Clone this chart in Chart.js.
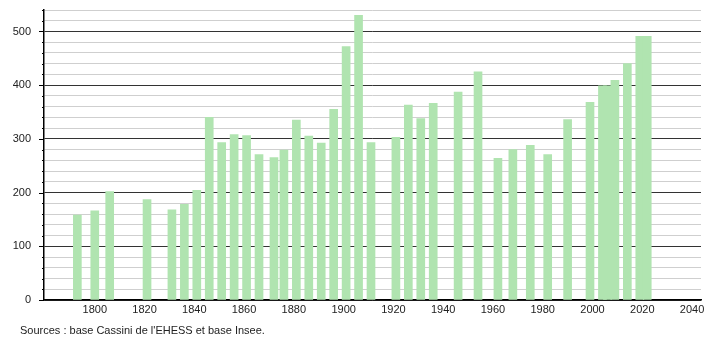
<!DOCTYPE html>
<html>
<head>
<meta charset="utf-8">
<script src="https://cdn.jsdelivr.net/npm/chart.js@4"></script>
<style>
  html, body { margin: 0; padding: 0; background: #fff; }
  #wrap { position: relative; width: 710px; height: 340px; }
</style>
</head>
<body>
<div id="wrap"><canvas id="chart" width="710" height="340"></canvas></div>
<script>
// census years and population
var years = [1793, 1800, 1806, 1821, 1831, 1836, 1841, 1846, 1851, 1856,
             1861, 1866, 1872, 1876, 1881, 1886, 1891, 1896, 1901, 1906,
             1911, 1921, 1926, 1931, 1936, 1946, 1954, 1962, 1968, 1975,
             1982, 1990, 1999, 2004, 2006, 2009, 2014, 2019, 2022];
var population = [158, 166, 202, 187, 168, 178, 204, 340, 293, 308,
                  306, 271, 265, 279, 335, 305, 292, 355, 472, 530,
                  293, 303, 363, 338, 366, 387, 425, 264, 280, 288,
                  271, 336, 368, 399, 399, 409, 440, 491, 491];
var xTickLabels = [1800, 1820, 1840, 1860, 1880, 1900, 1920, 1940, 1960, 1980, 2000, 2020, 2040];
var yTickValues = [0, 20, 40, 60, 80, 100, 120, 140, 160, 180, 200, 220, 240, 260,
                   280, 300, 320, 340, 360, 380, 400, 420, 440, 460, 480, 500, 520, 540];
var sourceText = "Sources : base Cassini de l'EHESS et base Insee.";

var FONT = { family: '"Liberation Sans", Arial, sans-serif', size: 11 };

// short ticks on the left axis: long for hundreds, short for the rest
var axisTicks = {
    id: 'axisTicks',
    afterDraw: function (chart) {
        var ctx = chart.ctx;
        var y = chart.scales.y;
        var left = chart.chartArea.left;
        ctx.save();
        ctx.strokeStyle = '#000';
        ctx.lineWidth = 1;
        y.ticks.forEach(function (t) {
            var py = Math.round(y.getPixelForValue(t.value)) + 0.5;
            var len = t.value % 100 === 0 ? 5 : 2;
            ctx.beginPath();
            ctx.moveTo(left - len, py);
            ctx.lineTo(left, py);
            ctx.stroke();
        });
        ctx.fillStyle = '#222';
        ctx.font = FONT.size + 'px ' + FONT.family;
        ctx.textBaseline = 'alphabetic';
        ctx.fillText(sourceText, 20, 334);
        ctx.restore();
    }
};

var points = years.map(function (yr, i) { return { x: yr, y: population[i] }; });

new Chart(document.getElementById('chart').getContext('2d'), {
    type: 'bar',
    data: {
        datasets: [{
            data: points,
            backgroundColor: 'rgb(176, 228, 176)',
            borderWidth: 0,
            barThickness: 8
        }]
    },
    options: {
        responsive: false,
        animation: false,
        layout: { padding: { top: 10, right: 9, bottom: 20, left: 0 } },
        plugins: { legend: { display: false }, tooltip: { enabled: false } },
        scales: {
            x: {
                type: 'linear',
                min: 1779.6,
                max: 2043.6,
                offset: false,
                afterBuildTicks: function (s) {
                    s.ticks = xTickLabels.map(function (v) { return { value: v }; });
                },
                afterFit: function (s) {
                    s.height = 20;
                    s.paddingLeft = 0;
                    s.paddingRight = 0;
                },
                grid: { display: false, drawTicks: false, offset: false },
                border: { color: '#000', width: 1.5 },
                ticks: {
                    color: '#222',
                    font: FONT,
                    padding: 3,
                    maxRotation: 0,
                    autoSkip: false,
                    callback: function (v) { return String(v); }
                }
            },
            y: {
                min: 0,
                max: 540,
                afterBuildTicks: function (s) {
                    s.ticks = yTickValues.map(function (v) { return { value: v }; });
                },
                afterFit: function (s) {
                    s.width = 44;
                    s.paddingTop = 0;
                    s.paddingBottom = 0;
                },
                grid: {
                    drawTicks: false,
                    color: function (c) {
                        return c.tick && c.tick.value % 100 === 0 ? '#333' : '#cfcfcf';
                    },
                    lineWidth: 1
                },
                border: { color: '#000', width: 1.5 },
                ticks: {
                    color: '#222',
                    font: FONT,
                    padding: 13,
                    autoSkip: false,
                    callback: function (v) { return v % 100 === 0 ? String(v) : ''; }
                }
            }
        }
    },
    plugins: [axisTicks]
});
</script>
</body>
</html>
